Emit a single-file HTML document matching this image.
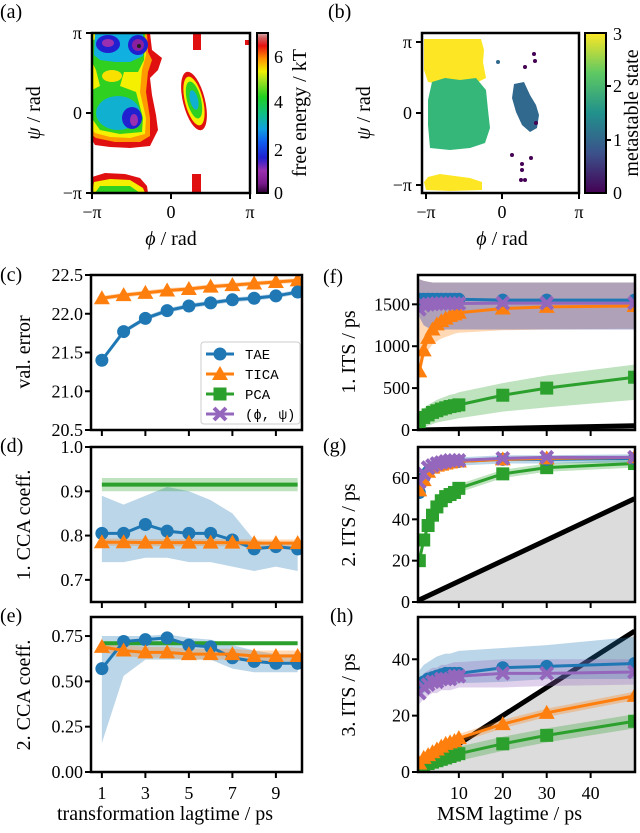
<!DOCTYPE html>
<html><head><meta charset="utf-8">
<style>
html,body{margin:0;padding:0;background:#fff;}
svg{display:block;font-family:"Liberation Serif",serif;}
text{fill:#000;}
</style></head>
<body>
<svg id="fig" width="640" height="833" viewBox="0 0 640 833" xmlns="http://www.w3.org/2000/svg">
<defs>
  <linearGradient id="jet" x1="0" y1="1" x2="0" y2="0">
    <stop offset="0" stop-color="#2a0030"/>
    <stop offset="0.06" stop-color="#7a1a8c"/>
    <stop offset="0.14" stop-color="#9a30b0"/>
    <stop offset="0.22" stop-color="#2020d0"/>
    <stop offset="0.32" stop-color="#1060f0"/>
    <stop offset="0.4" stop-color="#10a0e0"/>
    <stop offset="0.5" stop-color="#10c080"/>
    <stop offset="0.6" stop-color="#20d020"/>
    <stop offset="0.7" stop-color="#a0e020"/>
    <stop offset="0.76" stop-color="#f0f000"/>
    <stop offset="0.84" stop-color="#ff9000"/>
    <stop offset="0.92" stop-color="#e81010"/>
    <stop offset="0.97" stop-color="#d06060"/>
    <stop offset="1" stop-color="#d8b0b0"/>
  </linearGradient>
  <linearGradient id="viridis" x1="0" y1="1" x2="0" y2="0">
    <stop offset="0" stop-color="#440154"/>
    <stop offset="0.25" stop-color="#3b528b"/>
    <stop offset="0.5" stop-color="#21918c"/>
    <stop offset="0.75" stop-color="#5ec962"/>
    <stop offset="1" stop-color="#fde725"/>
  </linearGradient>
  <clipPath id="clipA"><rect x="92" y="33" width="158" height="160"/></clipPath>
</defs>

<!-- Panel (a) -->
<g>
  <text x="0" y="18" font-size="20">(a)</text>
  <g clip-path="url(#clipA)">
    <polygon points="92,33 150,33 152,50 162,58 158,70 150,78 152,95 156,115 158,130 150,146 130,148 110,147 95,145 92,140" fill="#e01010"/>
    <polygon points="92,33 147,33 148,52 152,60 148,72 146,92 150,118 150,136 140,142 115,142 96,138 92,135" fill="#ff9a00"/>
    <polygon points="92,33 145,33 146,55 142,70 140,92 146,118 145,134 130,138 110,137 95,133 92,130" fill="#f4f000"/>
    <polygon points="92,40 145,33 144,60 138,72 124,72 120,86 136,92 143,118 142,132 120,134 100,130 93,120 92,90 100,86 96,70 92,62" fill="#30d020"/>
    <polygon points="95,33 143,33 143,56 130,62 115,62 100,60 94,55" fill="#10b0e0"/>
    <ellipse cx="108" cy="44" rx="12" ry="9" fill="#2020d0"/>
    <ellipse cx="138" cy="45" rx="10" ry="10" fill="#2020d0"/>
    <ellipse cx="108" cy="43" rx="6" ry="4" fill="#9a30b0"/>
    <ellipse cx="138" cy="45" rx="6" ry="6" fill="#8a20a0"/>
    <circle cx="139" cy="46" r="2" fill="#202020"/>
    <ellipse cx="118" cy="113" rx="22" ry="17" fill="#10b0d0"/>
    <ellipse cx="132" cy="118" rx="10" ry="11" fill="#2020d0"/>
    <ellipse cx="134" cy="120" rx="4" ry="6" fill="#9a30b0"/>
    <ellipse cx="112" cy="76" rx="10" ry="6" fill="#f8e000"/>
    <ellipse cx="194" cy="101" rx="11" ry="30" transform="rotate(-14 194 101)" fill="#e01010"/>
    <ellipse cx="194" cy="101" rx="9" ry="25" transform="rotate(-14 194 101)" fill="#f4f000"/>
    <ellipse cx="194" cy="100" rx="7" ry="19" transform="rotate(-14 194 100)" fill="#30d020"/>
    <ellipse cx="194" cy="100" rx="4" ry="10" transform="rotate(-14 194 100)" fill="#10b0d0"/>
    <rect x="193" y="34" width="8" height="16" fill="#e01010"/>
    <rect x="245" y="40" width="5" height="5" fill="#e01010"/>
    <polygon points="92,193 92,177 105,173 125,174 140,178 147,186 148,193" fill="#e01010"/>
    <polygon points="92,193 94,182 110,179 130,180 143,188 145,193" fill="#f4f000"/>
    <polygon points="95,193 100,186 130,186 140,193" fill="#30d020"/>
    <rect x="192" y="174" width="9" height="19" fill="#e01010"/>
  </g>
  <rect x="92" y="33" width="158" height="160" fill="none" stroke="#000" stroke-width="2.5"/>
  <g stroke="#000" stroke-width="2">
    <line x1="86" y1="33" x2="92" y2="33"/><line x1="86" y1="113" x2="92" y2="113"/><line x1="86" y1="193" x2="92" y2="193"/>
    <line x1="92" y1="193" x2="92" y2="199"/><line x1="171" y1="193" x2="171" y2="199"/><line x1="250" y1="193" x2="250" y2="199"/>
  </g>
  <g font-size="18" text-anchor="end">
    <text x="82" y="39">π</text><text x="82" y="119">0</text><text x="82" y="199">−π</text>
  </g>
  <g font-size="18" text-anchor="middle">
    <text x="92" y="218">−π</text><text x="171" y="218">0</text><text x="250" y="218">π</text>
  </g>
  <text x="171" y="245" font-size="20" text-anchor="middle" font-style="italic">ϕ <tspan font-style="normal">/ rad</tspan></text>
  <text transform="translate(40 113) rotate(-90)" font-size="20" text-anchor="middle"><tspan font-style="italic">ψ</tspan> / rad</text>
  <rect x="257" y="33" width="11" height="160" fill="url(#jet)" stroke="#000" stroke-width="2"/>
  <g font-size="18">
    <text x="274" y="199">0</text><text x="274" y="156">2</text><text x="274" y="108">4</text><text x="274" y="63">6</text>
  </g>
  <text transform="translate(306 113) rotate(-90)" font-size="20" text-anchor="middle">free energy / kT</text>
</g>

<!-- Panel (b) -->
<g>
  <text x="328" y="18" font-size="20">(b)</text>
  <g>
    <polygon points="424,39 481,39 484,50 483,62 486,78 478,82 460,80 440,84 428,82 424,70" fill="#fde725"/>
    <polygon points="432,82 445,78 460,80 476,78 486,90 488,110 490,128 485,143 470,148 450,150 430,148 428,125 428,100" fill="#35b779"/>
    <polygon points="424,182 428,177 440,174 455,176 470,178 482,182 482,190 450,191 426,190" fill="#fde725"/>
    <polygon points="514,84 524,82 530,95 536,105 539,115 537,128 530,132 522,125 516,112 512,98" fill="#31688e"/>
    <circle cx="498" cy="62" r="2" fill="#31688e"/>
    <circle cx="534" cy="54" r="2" fill="#440154"/><circle cx="535" cy="61" r="2" fill="#440154"/><circle cx="525" cy="67" r="2" fill="#440154"/>
    <circle cx="536" cy="123" r="2" fill="#440154"/><circle cx="512" cy="155" r="2" fill="#440154"/><circle cx="531" cy="158" r="2" fill="#440154"/>
    <circle cx="522" cy="164" r="2" fill="#440154"/><circle cx="522" cy="170" r="2" fill="#440154"/><circle cx="521" cy="180" r="2" fill="#440154"/><circle cx="525" cy="180" r="2" fill="#440154"/>
  </g>
  <rect x="422" y="33" width="157" height="160" fill="none" stroke="#000" stroke-width="2.5"/>
  <g stroke="#000" stroke-width="2">
    <line x1="416" y1="42" x2="422" y2="42"/><line x1="416" y1="113" x2="422" y2="113"/><line x1="416" y1="185" x2="422" y2="185"/>
    <line x1="426" y1="193" x2="426" y2="199"/><line x1="502" y1="193" x2="502" y2="199"/><line x1="579" y1="193" x2="579" y2="199"/>
  </g>
  <g font-size="18" text-anchor="end">
    <text x="412" y="48">π</text><text x="412" y="119">0</text><text x="412" y="191">−π</text>
  </g>
  <g font-size="18" text-anchor="middle">
    <text x="426" y="218">−π</text><text x="502" y="218">0</text><text x="579" y="218">π</text>
  </g>
  <text x="502" y="245" font-size="20" text-anchor="middle" font-style="italic">ϕ <tspan font-style="normal">/ rad</tspan></text>
  <text transform="translate(370 113) rotate(-90)" font-size="20" text-anchor="middle"><tspan font-style="italic">ψ</tspan> / rad</text>
  <rect x="585" y="33" width="21" height="160" fill="url(#viridis)" stroke="#000" stroke-width="2"/>
  <g stroke="#000" stroke-width="2"><line x1="606" y1="86" x2="611" y2="86"/><line x1="606" y1="140" x2="611" y2="140"/></g>
  <g font-size="18">
    <text x="613" y="199">0</text><text x="613" y="146">1</text><text x="613" y="92">2</text><text x="613" y="40">3</text>
  </g>
  <text transform="translate(638 113) rotate(-90)" font-size="20" text-anchor="middle">metastable state</text>
</g>

<g id="charts"></g>
</svg>

<script>
// ---- data ----
const transLag = [1,2,3,4,5,6,7,8,9,10];
const valErrTAE = [21.4,21.77,21.94,22.04,22.1,22.14,22.18,22.2,22.23,22.28];
const valErrTICA = [22.2,22.24,22.27,22.3,22.32,22.35,22.37,22.39,22.41,22.43];
const cca1TAE = [0.805,0.805,0.825,0.81,0.805,0.805,0.79,0.77,0.775,0.77];
const cca1TAElo = [0.74,0.74,0.75,0.75,0.74,0.74,0.73,0.72,0.73,0.72];
const cca1TAEhi = [0.89,0.87,0.89,0.91,0.9,0.88,0.85,0.79,0.78,0.78];
const cca1TICA = [0.785,0.785,0.784,0.784,0.784,0.784,0.784,0.783,0.783,0.783];
const cca1PCA = [0.915,0.915,0.915,0.915,0.915,0.915,0.915,0.915,0.915,0.915];
const cca2TAE = [0.57,0.72,0.73,0.74,0.70,0.69,0.63,0.61,0.60,0.60];
const cca2TAElo = [0.16,0.53,0.62,0.62,0.62,0.62,0.57,0.55,0.55,0.55];
const cca2TAEhi = [0.75,0.75,0.75,0.76,0.74,0.73,0.70,0.67,0.65,0.65];
const cca2TICA = [0.69,0.67,0.66,0.66,0.65,0.65,0.65,0.64,0.64,0.64];
const cca2PCA = [0.71,0.71,0.71,0.71,0.71,0.71,0.71,0.71,0.71,0.71];

const msmLag = [1,2,3,4,5,6,7,8,9,10,20,30,50];
const its1TAE = [1560,1560,1560,1560,1560,1560,1560,1560,1560,1560,1550,1550,1550];
const its1PHI = [1440,1490,1500,1505,1510,1510,1510,1510,1510,1510,1515,1515,1515];
const its1TICA = [700,950,1100,1200,1260,1300,1330,1360,1380,1400,1450,1470,1480];
const its1PCA = [100,150,180,210,230,250,265,280,290,300,415,500,630];
const its1BandHi = [1800,1780,1770,1760,1760,1760,1760,1760,1760,1760,1760,1760,1760];
const its1BandLo = [1350,1250,1220,1210,1200,1200,1200,1200,1200,1200,1200,1200,1200];
const its1TICAlo = [600,850,950,1020,1060,1090,1110,1130,1150,1160,1190,1200,1210];
const its1PCAlo = [0,30,50,70,90,100,110,120,130,140,220,270,360];
const its1PCAhi = [200,260,300,330,360,380,400,420,430,450,560,650,780];
const its2TAE = [53,60,63,65,66,67,67.5,68,68,68,69,69,69.5];
const its2TICA = [54,59,63,65,66,66.5,67,67.5,68,68,69,69.5,70];
const its2PHI = [58,62,65,66,67,67.5,68,68.5,68.5,68.5,69.5,70,70];
const its2PCA = [20,30,37,42,46,49,51,52,53,55,62,65,67];
const its3TAE = [31,32,33,33.5,34,34.5,35,35,35,35,37,37.5,38.5];
const its3TAElo = [27,28,29,30,30,30.5,31,31,31,31.5,32,33,33];
const its3TAEhi = [36,38,39,40,41,41.5,42,42,42.5,43,44,45,48];
const its3PHI = [28,30,31,32,32,33,33,33,34,34,35,35,35.5];
const its3PHIlo = [24,26,27,28,28,29,29,29,29.5,30,30,30.5,31];
const its3PHIhi = [33,35,36,37,37,38,38,38.5,39,39,40,40,40];
const its3TICA = [3,5,6,7,8,9,10,10.5,11,12,17,21,27];
const its3PCA = [2,2.5,3,3.5,4,4.5,5,5.5,6,6.5,10,13,18];
const blackLine = [0,50];

const yTicksC = [20.5,21.0,21.5,22.0,22.5];
const yTicksD = [0.7,0.8,0.9,1.0];
const yTicksE = [0.00,0.25,0.50,0.75];
const xTicksE = [1,3,5,7,9];
const yTicksF = [0,500,1000,1500];
const yTicksG = [0,20,40,60];
const yTicksH = [0,20,40];
const xTicksH = [10,20,30,40];

const C = {TAE:'#1f77b4',TICA:'#ff7f0e',PCA:'#2ca02c',PHI:'#9467bd'};
const NS='http://www.w3.org/2000/svg';
const root=document.getElementById('charts');
function mk(tag, attrs, parent){const e=document.createElementNS(NS,tag);for(const k in attrs)e.setAttribute(k,attrs[k]);(parent||root).appendChild(e);return e;}

let clipN=0;
function panel(name, box, xdom, ydom){
  const g=mk('g',{});
  
  
  const id='clip'+(clipN++);
  const cp=mk('clipPath',{id:id},g);
  mk('rect',{x:box.x,y:box.y,width:box.w,height:box.h},cp);
  const inner=mk('g',{'clip-path':'url(#'+id+')'},g);
  const X=v=>box.x+(v-xdom[0])/(xdom[1]-xdom[0])*box.w;
  const Y=v=>box.y+box.h-(v-ydom[0])/(ydom[1]-ydom[0])*box.h;
  return {g,inner,X,Y,box};
}
function frame(p){
  const r=mk('rect',{x:p.box.x,y:p.box.y,width:p.box.w,height:p.box.h,fill:'none',stroke:'#000','stroke-width':2.5},p.g);
  
  
}
function yticks(p, ticks, fmt){
  ticks.forEach(t=>{
    const y=p.Y(t);
    mk('line',{x1:p.box.x-6,y1:y,x2:p.box.x,y2:y,stroke:'#000','stroke-width':2},p.g);
    const tx=mk('text',{x:p.box.x-8,y:y+6,'font-size':18,'text-anchor':'end'},p.g);
    tx.textContent=fmt(t);
    
    
  });
}
function xticks(p, ticks, labels){
  ticks.forEach(t=>{
    const x=p.X(t);
    mk('line',{x1:x,y1:p.box.y+p.box.h,x2:x,y2:p.box.y+p.box.h+6,stroke:'#000','stroke-width':2},p.g);
    if(labels){
      const tx=mk('text',{x:x,y:p.box.y+p.box.h+27,'font-size':18,'text-anchor':'middle'},p.g);
      tx.textContent=t;
      
      
    }
  });
}
function band(p, xs, lo, hi, color, op, nm){
  const pts=xs.map((x,i)=>p.X(x)+','+p.Y(hi[i])).concat(xs.map((x,i)=>p.X(x)+','+p.Y(lo[i])).reverse());
  const e=mk('polygon',{points:pts.join(' '),fill:color,'fill-opacity':op},p.inner);
  
  
}
function marker(p, type, x, y, color, parent){
  if(type==='o') return mk('circle',{cx:x,cy:y,r:6.5,fill:color},parent);
  if(type==='^') return mk('polygon',{points:`${x},${y-8} ${x-8},${y+6} ${x+8},${y+6}`,fill:color},parent);
  if(type==='s') return mk('rect',{x:x-6.5,y:y-6.5,width:13,height:13,fill:color},parent);
  if(type==='x'){const g=mk('g',{stroke:color,'stroke-width':4},parent);mk('line',{x1:x-6,y1:y-6,x2:x+6,y2:y+6},g);mk('line',{x1:x-6,y1:y+6,x2:x+6,y2:y-6},g);return g;}
}
function series(p, xs, ys, color, mtype, nm, lw){
  const sg=mk('g',{},p.inner);
  
  
  mk('polyline',{points:xs.map((x,i)=>p.X(x)+','+p.Y(ys[i])).join(' '),fill:'none',stroke:color,'stroke-width':lw||3},sg);
  if(mtype) xs.forEach((x,i)=>{
    const m=marker(p,mtype,p.X(x),p.Y(ys[i]),color,sg);
    
    
  });
}
function label(txt,x,y,rot,nm){
  const t=mk('text',{transform:`translate(${x} ${y})`+(rot?' rotate(-90)':''),'font-size':20,'text-anchor':rot?'middle':'start'});
  t.innerHTML=txt;
  
  
}
function blackDiag(p){
  const pts=`${p.X(blackLine[0])},${p.Y(blackLine[0])} ${p.X(blackLine[1])},${p.Y(blackLine[1])} ${p.X(blackLine[1])},${p.Y(0)}`;
  const s=mk('polygon',{points:pts,fill:'#dcdcdc'},p.inner);
  
  
  const l=mk('line',{x1:p.X(blackLine[0]),y1:p.Y(blackLine[0]),x2:p.X(blackLine[1]),y2:p.Y(blackLine[1]),stroke:'#000','stroke-width':5},p.inner);
  
  
}

const LX=[0.5,10.2];
// (c)
let p=panel('panel-c-val-error',{x:91,y:275,w:211,h:155},LX,[20.5,22.5]);
band(p,transLag,valErrTICA.map(v=>v-0.03),valErrTICA.map(v=>v+0.03),C.TICA,0.3,'tica-band');
band(p,transLag,valErrTAE.map(v=>v-0.03),valErrTAE.map(v=>v+0.03),C.TAE,0.3,'tae-band');
series(p,transLag,valErrTICA,C.TICA,'^','tica-series');
series(p,transLag,valErrTAE,C.TAE,'o','tae-series');
frame(p); yticks(p,yTicksC,v=>v.toFixed(1)); xticks(p,xTicksE,false);
label('(c)',0,281,false,'panel-c-label');
label('val. error',30,352,true,'c-y-axis-title');
// legend
const lg=mk('g',{});


mk('rect',{x:201,y:342,width:99,height:82,rx:3,fill:'#fff','fill-opacity':0.85,stroke:'#ccc','stroke-width':1},lg);
[['TAE',C.TAE,'o'],['TICA',C.TICA,'^'],['PCA',C.PCA,'s'],['(ϕ, ψ)',C.PHI,'x']].forEach((e,i)=>{
  const y=354+i*20;
  const eg=mk('g',{},lg);
  
  
  mk('line',{x1:206,y1:y,x2:234,y2:y,stroke:e[1],'stroke-width':3},eg);
  marker(null,e[2],220,y,e[1],eg);
  const t=mk('text',{x:245,y:y+5,'font-size':14,'font-family':'Liberation Mono, monospace'},eg);
  t.textContent=e[0];
});
// (d)
p=panel('panel-d-cca1',{x:91,y:447,w:211,h:155},LX,[0.65,1.0]);
band(p,transLag,cca1TAElo,cca1TAEhi,C.TAE,0.3,'tae-band');
band(p,transLag,cca1PCA.map(v=>v-0.015),cca1PCA.map(v=>v+0.015),C.PCA,0.3,'pca-band');
band(p,transLag,cca1TICA.map(v=>v-0.008),cca1TICA.map(v=>v+0.008),C.TICA,0.3,'tica-band');
series(p,transLag,cca1PCA,C.PCA,null,'pca-series',4);
series(p,transLag,cca1TAE,C.TAE,'o','tae-series');
series(p,transLag,cca1TICA,C.TICA,'^','tica-series');
frame(p); yticks(p,yTicksD,v=>v.toFixed(1)); xticks(p,xTicksE,false);
label('(d)',0,452,false,'panel-d-label');
label('1. CCA coeff.',30,525,true,'d-y-axis-title');
// (e)
p=panel('panel-e-cca2',{x:91,y:617,w:211,h:155},LX,[0,0.855]);
band(p,transLag,cca2TAElo,cca2TAEhi,C.TAE,0.3,'tae-band');
band(p,transLag,cca2TICA.map(v=>v-0.03),cca2TICA.map(v=>v+0.03),C.TICA,0.3,'tica-band');
series(p,transLag,cca2PCA,C.PCA,null,'pca-series',4);
series(p,transLag,cca2TAE,C.TAE,'o','tae-series');
series(p,transLag,cca2TICA,C.TICA,'^','tica-series');
frame(p); yticks(p,yTicksE,v=>v.toFixed(2)); xticks(p,xTicksE,true);
label('(e)',0,622,false,'panel-e-label');
label('2. CCA coeff.',30,695,true,'e-y-axis-title');
label('transformation lagtime / ps',57,820,false,'e-x-axis-title');

const RX=[0.7,50.1];
// (f)
p=panel('panel-f-its1',{x:418,y:275,w:217,h:155},RX,[0,1850]);
blackDiag(p);
band(p,msmLag,its1PCAlo,its1PCAhi,C.PCA,0.3,'pca-band');
band(p,msmLag,its1TICAlo,its1BandHi,C.TICA,0.3,'tica-band');
band(p,msmLag,its1BandLo,its1BandHi,C.TAE,0.3,'tae-band');
band(p,msmLag,its1BandLo,its1BandHi,C.PHI,0.3,'phi-psi-band');
series(p,msmLag,its1PCA,C.PCA,'s','pca-series');
series(p,msmLag,its1TICA,C.TICA,'^','tica-series');
series(p,msmLag,its1TAE,C.TAE,'o','tae-series');
series(p,msmLag,its1PHI,C.PHI,'x','phi-psi-series');
frame(p); yticks(p,yTicksF,v=>v); xticks(p,xTicksH,false);
label('(f)',323,283,false,'panel-f-label');
label('1. ITS / ps',355,352,true,'f-y-axis-title');
// (g)
p=panel('panel-g-its2',{x:418,y:447,w:217,h:155},RX,[0,75]);
blackDiag(p);
band(p,msmLag,its2PCA.map(v=>v-2),its2PCA.map(v=>v+2),C.PCA,0.3,'pca-band');
band(p,msmLag,its2TAE.map(v=>v-2),its2TAE.map(v=>v+2),C.TAE,0.3,'tae-band');
series(p,msmLag,its2PCA,C.PCA,'s','pca-series');
series(p,msmLag,its2TAE,C.TAE,'o','tae-series');
series(p,msmLag,its2TICA,C.TICA,'^','tica-series');
series(p,msmLag,its2PHI,C.PHI,'x','phi-psi-series');
frame(p); yticks(p,yTicksG,v=>v); xticks(p,xTicksH,false);
label('(g)',323,452,false,'panel-g-label');
label('2. ITS / ps',355,525,true,'g-y-axis-title');
// (h)
p=panel('panel-h-its3',{x:418,y:617,w:217,h:155},RX,[0,55]);
blackDiag(p);
band(p,msmLag,its3TAElo,its3TAEhi,C.TAE,0.3,'tae-band');
band(p,msmLag,its3PHIlo,its3PHIhi,C.PHI,0.3,'phi-psi-band');
band(p,msmLag,its3TICA.map(v=>v-1.5),its3TICA.map(v=>v+1.5),C.TICA,0.3,'tica-band');
band(p,msmLag,its3PCA.map(v=>v-2.5),its3PCA.map(v=>v+2.5),C.PCA,0.3,'pca-band');
series(p,msmLag,its3PCA,C.PCA,'s','pca-series');
series(p,msmLag,its3TICA,C.TICA,'^','tica-series');
series(p,msmLag,its3TAE,C.TAE,'o','tae-series');
series(p,msmLag,its3PHI,C.PHI,'x','phi-psi-series');
frame(p); yticks(p,yTicksH,v=>v); xticks(p,xTicksH,true);
label('(h)',330,622,false,'panel-h-label');
label('3. ITS / ps',355,695,true,'h-y-axis-title');
label('MSM lagtime / ps',437,820,false,'h-x-axis-title');
</script>
</body></html>
